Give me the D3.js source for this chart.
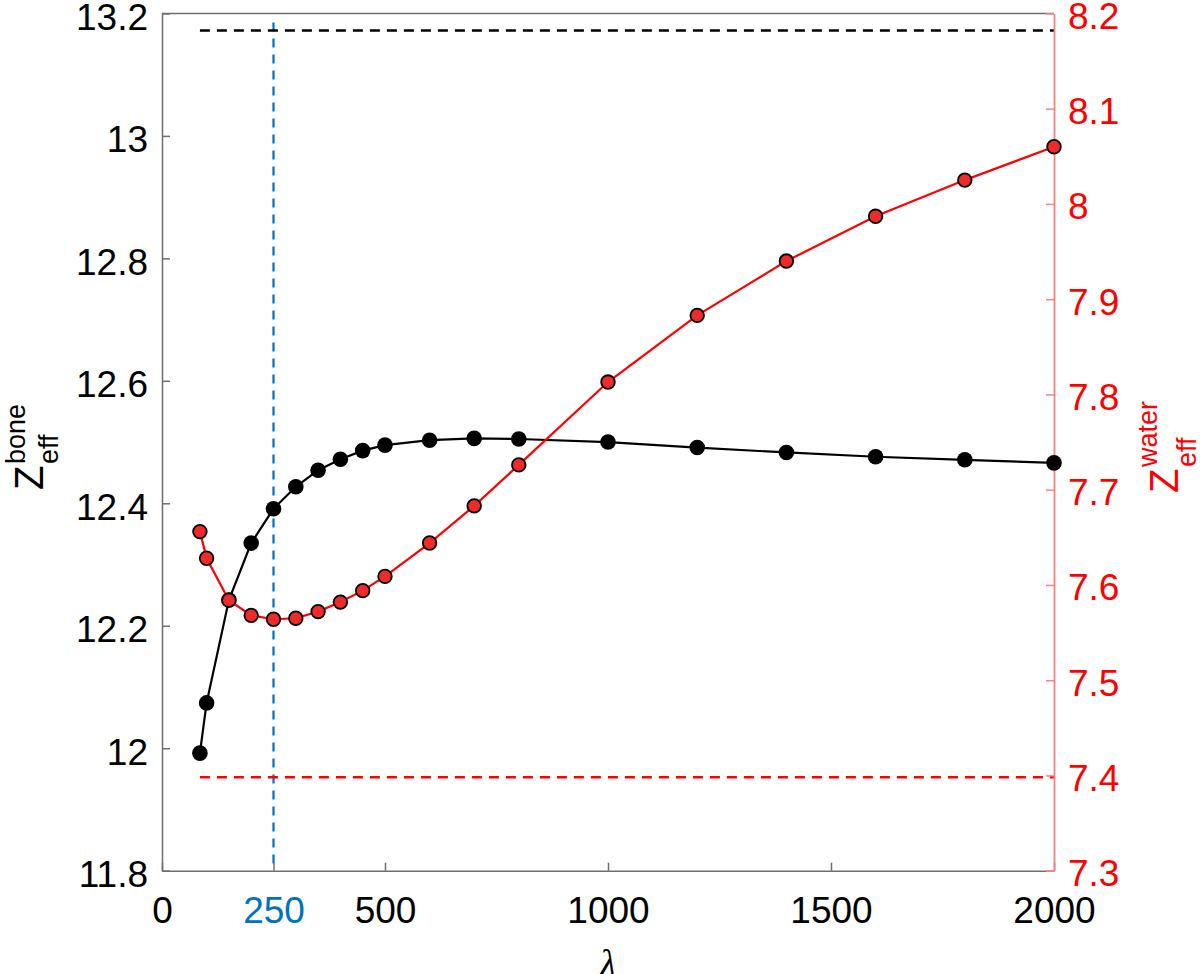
<!DOCTYPE html>
<html>
<head>
<meta charset="utf-8">
<script src="https://cdn.jsdelivr.net/npm/d3@7/dist/d3.min.js"></script>
<style>
  html, body { margin: 0; padding: 0; background: #fff; }
  svg { display: block; font-family: "Liberation Sans", Arial, sans-serif; }
</style>
</head>
<body>
<svg id="chart" width="1200" height="974"></svg>
<script>
// ---- data ----
const lambdaValues = [85, 100, 150, 200, 250, 300, 350, 400, 450, 500, 600, 700, 800, 1000, 1200, 1400, 1600, 1800, 2000];
const zBone = [11.992, 12.074, 12.242, 12.335, 12.391, 12.427, 12.454, 12.472, 12.486, 12.495, 12.503, 12.506, 12.505, 12.500, 12.491, 12.483, 12.476, 12.471, 12.466];
const zWater = [7.656, 7.628, 7.584, 7.568, 7.564, 7.565, 7.572, 7.582, 7.594, 7.609, 7.644, 7.683, 7.726, 7.813, 7.883, 7.940, 7.987, 8.025, 8.060];
const boneReference = 13.172;
const waterReference = 7.398;
const lambdaMarker = 250;
const xTicks = [0, 250, 500, 1000, 1500, 2000];
const leftTicks = [11.8, 12, 12.2, 12.4, 12.6, 12.8, 13, 13.2];
const rightTicks = [7.3, 7.4, 7.5, 7.6, 7.7, 7.8, 7.9, 8, 8.1, 8.2];

// ---- layout ----
const L = 162, R = 1054, T = 13.4, B = 870.7;
const svg = d3.select("#chart");
const x = d3.scaleLinear().domain([0, 2000]).range([L, R]);
const yL = d3.scaleLinear().domain([11.8, 13.2]).range([B, T]);
const yR = d3.scaleLinear().domain([7.3, 8.2]).range([B, T]);

const gray = "#6e6e6e", pink = "#ff7f7f", blue = "#0072BD";
const fs = 37;

// box top line
svg.append("line").attr("x1", L).attr("x2", R).attr("y1", T).attr("y2", T).attr("stroke", gray).attr("stroke-width", 1.5);

// reference dashed lines
svg.append("line")
  .attr("x1", x(lambdaMarker)).attr("x2", x(lambdaMarker))
  .attr("y1", yL(13.185)).attr("y2", B - 2)
  .attr("stroke", blue).attr("stroke-width", 2.2).attr("stroke-dasharray", "9,7");
svg.append("line")
  .attr("x1", x(lambdaValues[0])).attr("x2", x(2000))
  .attr("y1", yL(boneReference)).attr("y2", yL(boneReference))
  .attr("stroke", "#000").attr("stroke-width", 2.5).attr("stroke-dasharray", "10,7");
svg.append("line")
  .attr("x1", x(lambdaValues[0])).attr("x2", x(2000))
  .attr("y1", yR(waterReference)).attr("y2", yR(waterReference))
  .attr("stroke", "#ff0000").attr("stroke-width", 2.5).attr("stroke-dasharray", "10,7");

// x axis
const gx = svg.append("g").attr("transform", `translate(0,${B})`)
  .call(d3.axisBottom(x).tickValues(xTicks).tickSize(-8).tickSizeOuter(0).tickPadding(0).tickFormat(d3.format("d")));
gx.select(".domain").attr("stroke", gray).attr("stroke-width", 1.5);
gx.selectAll(".tick line").attr("stroke", gray).attr("stroke-width", 1.5);
gx.selectAll(".tick text").attr("font-size", fs).attr("fill", d => d === lambdaMarker ? blue : "#000")
  .attr("y", 52).attr("dy", 0).attr("font-family", "Liberation Sans, Arial, sans-serif");

// left axis
const gl = svg.append("g").attr("transform", `translate(${L},0)`)
  .call(d3.axisLeft(yL).tickValues(leftTicks).tickSize(-8).tickSizeOuter(0).tickPadding(14).tickFormat(d => d3.format("")(+d.toFixed(1))));
gl.select(".domain").attr("stroke", gray).attr("stroke-width", 1.5);
gl.selectAll(".tick line").attr("stroke", gray).attr("stroke-width", 1.5);
gl.selectAll(".tick text").attr("font-size", fs).attr("fill", "#000").attr("dy", 0).attr("y", 16)
  .attr("font-family", "Liberation Sans, Arial, sans-serif");

// right axis
const gr = svg.append("g").attr("transform", `translate(${R},0)`)
  .call(d3.axisRight(yR).tickValues(rightTicks).tickSize(-8).tickSizeOuter(0).tickPadding(14).tickFormat(d => d3.format("")(+d.toFixed(1))));
gr.select(".domain").attr("stroke", pink).attr("stroke-width", 1.8);
gr.selectAll(".tick line").attr("stroke", pink).attr("stroke-width", 1.5);
gr.selectAll(".tick text").attr("font-size", fs).attr("fill", "#ff0000").attr("dy", 0).attr("y", 15)
  .attr("font-family", "Liberation Sans, Arial, sans-serif");

// pink corner at bottom right
svg.append("line").attr("x1", R - 8).attr("x2", R).attr("y1", B).attr("y2", B).attr("stroke", pink).attr("stroke-width", 1.5);

// series
const boneData = lambdaValues.map((l, i) => ({ l, v: zBone[i] }));
const waterData = lambdaValues.map((l, i) => ({ l, v: zWater[i] }));

svg.append("path").datum(boneData)
  .attr("d", d3.line().x(d => x(d.l)).y(d => yL(d.v)))
  .attr("fill", "none").attr("stroke", "#000").attr("stroke-width", 2.2);
svg.selectAll("circle.bone").data(boneData).enter().append("circle")
  .attr("class", "bone").attr("cx", d => x(d.l)).attr("cy", d => yL(d.v)).attr("r", 7.8)
  .attr("fill", "#000");

svg.append("path").datum(waterData)
  .attr("d", d3.line().x(d => x(d.l)).y(d => yR(d.v)))
  .attr("fill", "none").attr("stroke", "#ff0000").attr("stroke-width", 2.2);
svg.selectAll("circle.water").data(waterData).enter().append("circle")
  .attr("class", "water").attr("cx", d => x(d.l)).attr("cy", d => yR(d.v)).attr("r", 6.8)
  .attr("fill", "#ee2a2a").attr("stroke", "#000").attr("stroke-width", 1.8);

// axis titles
function zLabel(tx, ty, sup, color, supShift, subShift) {
  const g = svg.append("g").attr("transform", `translate(${tx},${ty}) rotate(-90)`)
    .attr("fill", color).attr("font-family", "Liberation Sans, Arial, sans-serif");
  g.append("text").attr("x", 0).attr("y", 0).attr("font-size", 40).text("Z");
  g.append("text").attr("x", 26).attr("y", supShift).attr("font-size", 27).text(sup);
  g.append("text").attr("x", 26).attr("y", subShift).attr("font-size", 27).text("eff");
}
zLabel(43, 490, "bone", "#000", -18, 15);
zLabel(1178, 493, "water", "#ff0000", -21, 18);

// x label
svg.append("text").attr("x", (L + R) / 2).attr("y", 976).attr("text-anchor", "middle")
  .attr("font-size", 38).attr("font-style", "italic").attr("font-family", "Liberation Serif, serif")
  .attr("fill", "#000").text("λ");
</script>
</body>
</html>
